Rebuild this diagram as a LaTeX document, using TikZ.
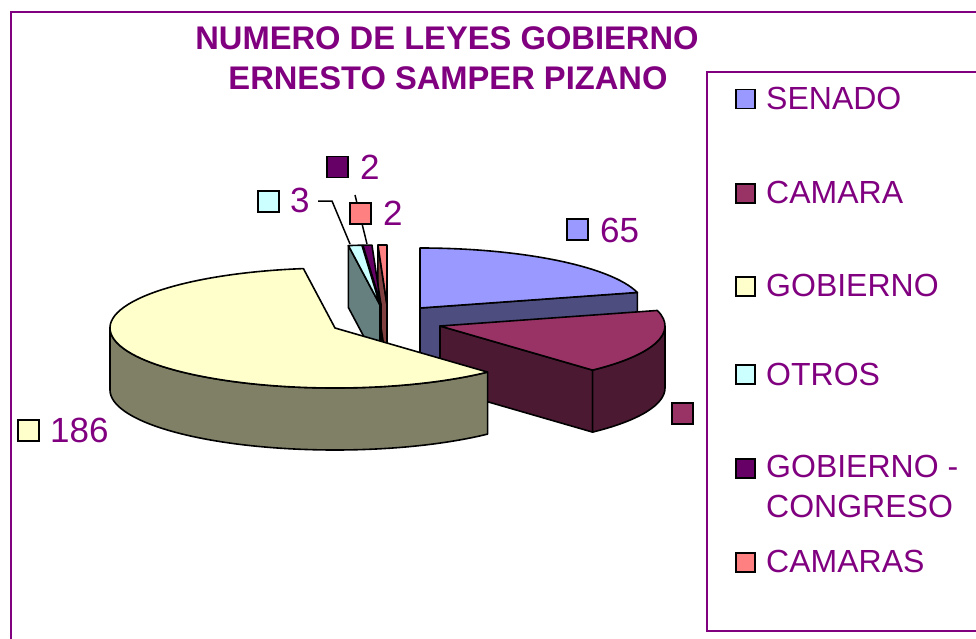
\documentclass[tikz,border=0pt]{standalone}
\usepackage{fontspec}
\setmainfont{Liberation Sans}
\usetikzlibrary{calc}
\definecolor{txt}{HTML}{800080}
\definecolor{senT}{HTML}{9999FF}\definecolor{senS}{HTML}{4D4D80}
\definecolor{camT}{HTML}{993366}\definecolor{camS}{HTML}{4C1933}
\definecolor{gobT}{HTML}{FFFFCC}\definecolor{gobS}{HTML}{808066}
\definecolor{otrT}{HTML}{CCFFFF}\definecolor{otrS}{HTML}{668080}
\definecolor{gcT}{HTML}{660066}\definecolor{gcS}{HTML}{330033}
\definecolor{caT}{HTML}{FF8080}\definecolor{caS}{HTML}{804040}
\tikzset{
  pie/.style={draw=black, line width=1.6pt, line join=round},
  lsq/.style={draw=black, line width=1.5pt, minimum size=19pt, inner sep=0pt, anchor=north west},
  dsq/.style={draw=black, line width=1.5pt, minimum size=21pt, inner sep=0pt, anchor=north west},
  ltxt/.style={text=txt, font=\fontsize{32}{38}\selectfont, inner sep=0pt, anchor=base west},
  dtxt/.style={text=txt, font=\fontsize{35}{40}\selectfont, inner sep=0pt, anchor=base west},
  ttl/.style={text=txt, font=\bfseries\fontsize{32.7}{39}\selectfont, inner sep=0pt, anchor=base},
  leader/.style={draw=black, line width=1.5pt},
  frm/.style={draw=txt, line width=2.5pt},
  lfrm/.style={draw=txt, line width=2pt}
}
\begin{document}
\begin{tikzpicture}[x=1pt,y=1pt,x radius=225pt,y radius=60pt]
\useasboundingbox (0,0) rectangle (976,-639);
\clip (0,0) rectangle (976,-639);
\fill[white] (0,0) rectangle (976,-639);
% outer frame
\draw[frm] (11,-660) -- (11,-12) -- (990,-12);
% title
\node[ttl] (t1) at (447,-50) {NUMERO DE LEYES GOBIERNO};
\node[ttl] (t2) at (448,-90) {ERNESTO SAMPER PIZANO};
% centers
\coordinate (S) at (420,-308);
\coordinate (C) at (440,-326);
\coordinate (G) at (335,-328);
\coordinate (O) at (380,-305);
\coordinate (P) at (381,-305);
\coordinate (K) at (387,-305);
% small slices
\draw[pie, fill=caS] (K) -- ($(K)+(92.31:225pt and 60pt)$) -- ++(0,-62) -- ($(K)+(0,-62)$) -- cycle;
\draw[pie, fill=caT] (K) -- ($(K)+(90:225pt and 60pt)$) arc[start angle=90, end angle=92.31] -- cycle;
\draw[pie, fill=gcS] (P) -- ($(P)+(94.61:225pt and 60pt)$) -- ++(0,-62) -- ($(P)+(0,-62)$) -- cycle;
\draw[pie, fill=gcT] (P) -- ($(P)+(92.31:225pt and 60pt)$) arc[start angle=92.31, end angle=94.61] -- cycle;
\draw[pie, fill=otrS] (O) -- ($(O)+(98.07:225pt and 60pt)$) -- ++(0,-62) -- ($(O)+(0,-62)$) -- cycle;
\draw[pie, fill=otrT] (O) -- ($(O)+(94.61:225pt and 60pt)$) arc[start angle=94.61, end angle=98.07] -- cycle;
% senado
\draw[pie, fill=senS] (S) -- ($(S)+(15:225pt and 60pt)$) -- ++(0,-62) -- ($(S)+(0,-62)$) -- cycle;
\draw[pie, fill=senT] (S) -- ($(S)+(15:225pt and 60pt)$) arc[start angle=15, end angle=90] -- cycle;
% camara
\draw[pie, fill=camS] (C) -- ($(C)+(-47.31:225pt and 60pt)$) -- ++(0,-62) -- ($(C)+(0,-62)$) -- cycle;
\draw[pie, fill=camS] ($(C)+(-47.31:225pt and 60pt)$) arc[start angle=-47.31, end angle=0] -- ++(0,-62) arc[start angle=0, end angle=-47.31] -- cycle;
\draw[pie, fill=camT] (C) -- ($(C)+(-47.31:225pt and 60pt)$) arc[start angle=-47.31, end angle=15] -- cycle;
% gobierno
\draw[pie, fill=gobS] ($(G)+(180:225pt and 60pt)$) arc[start angle=180, end angle=312.69] -- ++(0,-62) arc[start angle=312.69, end angle=180] -- cycle;
\draw[pie, fill=gobT] (G) -- ($(G)+(98.07:225pt and 60pt)$) arc[start angle=98.07, end angle=312.69] -- cycle;
% leaders
\coordinate (l1a) at (318,-201);
\coordinate (l1b) at (332,-201);
\coordinate (l1c) at (350,-244);
\coordinate (l2a) at (355,-195);
\coordinate (l2b) at (367,-244);
\draw[leader] (l1a) -- (l1b) -- (l1c);
\draw[leader] (l2a) -- (l2b);
% data labels
\node[dsq, fill=senT] (d1) at (566,-218) {};
\node[dtxt] (d1t) at (600,-242) {65};
\node[dsq, fill=camT] (d2) at (671,-402) {};
\node[dsq, fill=gobT] (d3) at (17,-419) {};
\node[dtxt] (d3t) at (50,-442) {186};
\node[dsq, fill=otrT] (d4) at (257,-190) {};
\node[dtxt] (d4t) at (290,-212) {3};
\node[dsq, fill=gcT] (d5) at (326,-156) {};
\node[dtxt] (d5t) at (360,-179) {2};
\node[dsq, fill=caT] (d6) at (349,-202) {};
\node[dtxt] (d6t) at (383,-225) {2};
% legend
\draw[lfrm, fill=white] (990,-72) -- (707,-72) -- (707,-631) -- (990,-631);
\node[lsq, fill=senT] (q1) at (735,-89) {};
\node[ltxt] (e1) at (766,-110) {SENADO};
\node[lsq, fill=camT] (q2) at (735,-183) {};
\node[ltxt] (e2) at (766,-203) {CAMARA};
\node[lsq, fill=gobT] (q3) at (735,-276) {};
\node[ltxt] (e3) at (766,-296) {GOBIERNO};
\node[lsq, fill=otrT] (q4) at (735,-364) {};
\node[ltxt] (e4) at (766,-385) {OTROS};
\node[lsq, fill=gcT] (q5) at (735,-458) {};
\node[ltxt] (e5) at (766,-477) {GOBIERNO -};
\node[ltxt] (e5b) at (766,-517) {CONGRESO};
\node[lsq, fill=caT] (q6) at (735,-552) {};
\node[ltxt] (e6) at (766,-572) {CAMARAS};
\end{tikzpicture}
\end{document}
